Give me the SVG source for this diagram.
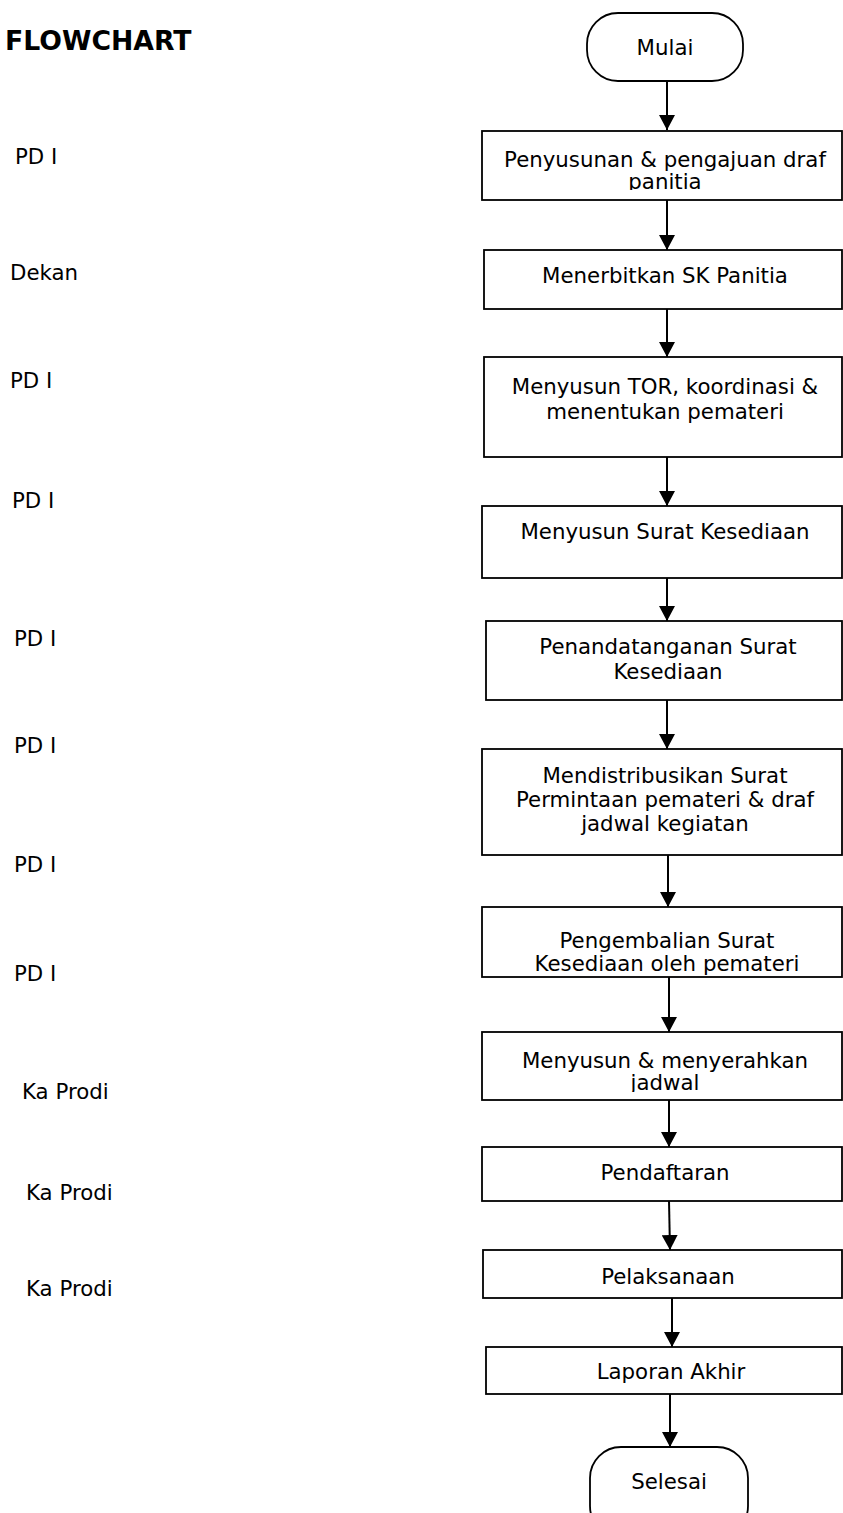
<svg xmlns="http://www.w3.org/2000/svg" width="843" height="1513" viewBox="0 0 843 1513">
<style>
text{font-family:"DejaVu Sans",Verdana,sans-serif;font-size:21.3px;fill:#000}
.c{text-anchor:middle}
.t{font-weight:bold;font-size:26.7px}
.box{fill:#fff;stroke:#000;stroke-width:1.8}
.con line{stroke:#000;stroke-width:2;marker-end:url(#ah)}
</style>
<defs>
<marker id="ah" markerUnits="userSpaceOnUse" markerWidth="16" markerHeight="16" refX="15" refY="8" orient="auto">
<path d="M0,0 L15,8 L0,16 z" fill="#000"/>
</marker>
<clipPath id="clip1"><rect x="480" y="130" width="363" height="60"/></clipPath>
<clipPath id="clip8"><rect x="480" y="1031" width="363" height="61"/></clipPath>
</defs>
<rect width="843" height="1513" fill="#fff"/>
<g id="title"><text class="t" x="5" y="50">FLOWCHART</text></g>
<g id="labels">
<text x="15" y="164">PD I</text>
<text x="10" y="280">Dekan</text>
<text x="10" y="388">PD I</text>
<text x="12" y="508">PD I</text>
<text x="14" y="646">PD I</text>
<text x="14" y="753">PD I</text>
<text x="14" y="872">PD I</text>
<text x="14" y="981">PD I</text>
<text x="22" y="1099">Ka Prodi</text>
<text x="26" y="1200">Ka Prodi</text>
<text x="26" y="1296">Ka Prodi</text>
</g>
<g class="con" id="connectors">
<line x1="667" y1="81" x2="667" y2="130"/>
<line x1="667" y1="200" x2="667" y2="250"/>
<line x1="667" y1="309" x2="667" y2="357"/>
<line x1="667" y1="457" x2="667" y2="506"/>
<line x1="667" y1="578" x2="667" y2="621"/>
<line x1="667" y1="700" x2="667" y2="749"/>
<line x1="668" y1="855" x2="668" y2="907"/>
<line x1="669" y1="977" x2="669" y2="1032"/>
<line x1="669" y1="1100" x2="669" y2="1147"/>
<line x1="669" y1="1201" x2="670" y2="1250"/>
<line x1="672" y1="1298" x2="672" y2="1347"/>
<line x1="670" y1="1394" x2="670" y2="1447"/>
</g>
<g id="n-mulai"><rect class="box" x="587" y="13" width="156" height="68" rx="31" ry="31"/><text class="c" x="665" y="55">Mulai</text></g>
<g id="n1"><rect class="box" x="482" y="131" width="360" height="69"/>
<text class="c" x="665" y="167">Penyusunan &amp; pengajuan draf</text>
<text class="c" x="665" y="189" clip-path="url(#clip1)">panitia</text></g>
<g id="n2"><rect class="box" x="484" y="250" width="358" height="59"/>
<text class="c" x="665" y="283">Menerbitkan SK Panitia</text></g>
<g id="n3"><rect class="box" x="484" y="357" width="358" height="100"/>
<text class="c" x="665" y="394">Menyusun TOR, koordinasi &amp;</text>
<text class="c" x="665" y="419">menentukan pemateri</text></g>
<g id="n4"><rect class="box" x="482" y="506" width="360" height="72"/>
<text class="c" x="665" y="539">Menyusun Surat Kesediaan</text></g>
<g id="n5"><rect class="box" x="486" y="621" width="356" height="79"/>
<text class="c" x="668" y="654">Penandatanganan Surat</text>
<text class="c" x="668" y="679">Kesediaan</text></g>
<g id="n6"><rect class="box" x="482" y="749" width="360" height="106"/>
<text class="c" x="665" y="783">Mendistribusikan Surat</text>
<text class="c" x="665" y="807">Permintaan pemateri &amp; draf</text>
<text class="c" x="665" y="831">jadwal kegiatan</text></g>
<g id="n7"><rect class="box" x="482" y="907" width="360" height="70"/>
<text class="c" x="667" y="948">Pengembalian Surat</text>
<text class="c" x="667" y="971">Kesediaan oleh pemateri</text></g>
<g id="n8"><rect class="box" x="482" y="1032" width="360" height="68"/>
<text class="c" x="665" y="1068">Menyusun &amp; menyerahkan</text>
<text class="c" x="665" y="1090" clip-path="url(#clip8)">jadwal</text></g>
<g id="n9"><rect class="box" x="482" y="1147" width="360" height="54"/>
<text class="c" x="665" y="1180">Pendaftaran</text></g>
<g id="n10"><rect class="box" x="483" y="1250" width="359" height="48"/>
<text class="c" x="668" y="1284">Pelaksanaan</text></g>
<g id="n11"><rect class="box" x="486" y="1347" width="356" height="47"/>
<text class="c" x="671" y="1379">Laporan Akhir</text></g>
<g id="n-selesai"><rect class="box" x="590" y="1447" width="158" height="90" rx="31" ry="31"/><text class="c" x="669" y="1489">Selesai</text></g>
</svg>
